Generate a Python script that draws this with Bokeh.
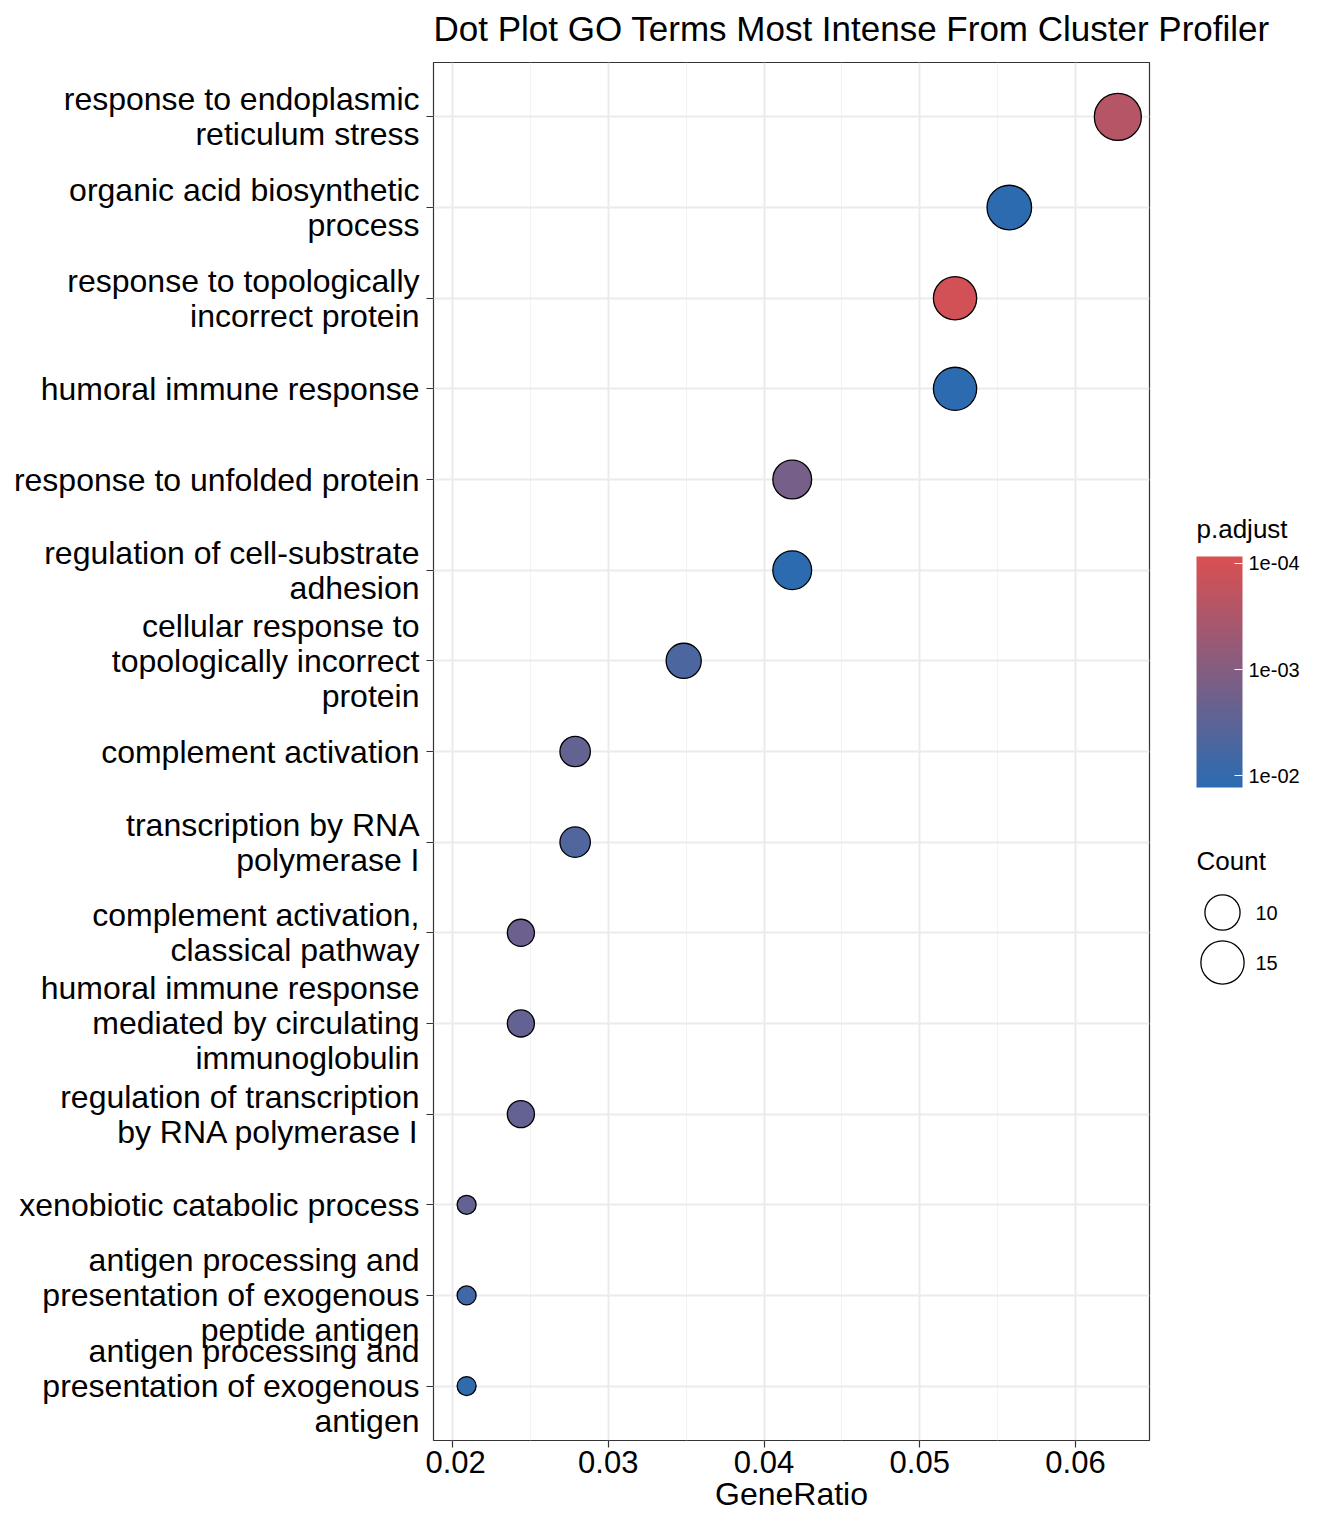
import numpy as np
from bokeh.plotting import figure
from bokeh.layouts import row, column
from bokeh.models import LinearColorMapper, ColorBar, FixedTicker, ColumnDataSource, Range1d
from bokeh.core.properties import value
from bokeh.embed import file_html
from bokeh.resources import INLINE

terms = [
    "response to endoplasmic\nreticulum stress",
    "organic acid biosynthetic\nprocess",
    "response to topologically\nincorrect protein",
    "humoral immune response",
    "response to unfolded protein",
    "regulation of cell-substrate\nadhesion",
    "cellular response to\ntopologically incorrect\nprotein",
    "complement activation",
    "transcription by RNA\npolymerase I",
    "complement activation,\nclassical pathway",
    "humoral immune response\nmediated by circulating\nimmunoglobulin",
    "regulation of transcription\nby RNA polymerase I",
    "xenobiotic catabolic process",
    "antigen processing and\npresentation of exogenous\npeptide antigen",
    "antigen processing and\npresentation of exogenous\nantigen",
]
gene_ratio = [18/287, 16/287, 15/287, 15/287, 12/287, 12/287, 10/287, 8/287, 8/287,
              7/287, 7/287, 7/287, 6/287, 6/287, 6/287]
count = [18, 16, 15, 15, 12, 12, 10, 8, 8, 7, 7, 7, 6, 6, 6]
p_adjust = [2.5e-4, 1.2e-2, 1.1e-4, 1.2e-2, 1.5e-3, 1.2e-2, 5e-3, 2.5e-3, 4.5e-3,
            2e-3, 2.5e-3, 2.5e-3, 2.5e-3, 7e-3, 1.1e-2]
legend_counts = [10, 15]
x_ticks = [0.02, 0.03, 0.04, 0.05, 0.06]
p_ticks = [1e-4, 1e-3, 1e-2]

FONT = "Liberation Sans"
TOP = 62
FRAME_H = 1378
BOTTOM = 88
LINE_H = 35


def diam(c):
    c = np.asarray(c, dtype=float)
    return 19 + 28 * np.sqrt((c - 6) / 12)


n = len(terms)
ypos = list(range(n, 0, -1))

red = np.array([0xDB, 0x50, 0x52])
blue = np.array([0x2B, 0x6C, 0xB2])
palette = []
for t in np.linspace(0, 1, 256):
    c = (blue * (1 - t) + red * t).astype(int)
    palette.append("#%02x%02x%02x" % tuple(c))
# reversed log10 scale: small p (red) at the top of the bar
mapper = LinearColorMapper(palette=palette, low=1.887, high=4.066)

src = ColumnDataSource(dict(x=gene_ratio, y=ypos, nlp=list(-np.log10(p_adjust)),
                            size=list(diam(count))))

# title strip
tf = figure(frame_width=1336, frame_height=TOP, output_backend="svg", toolbar_location=None,
            x_range=Range1d(0, 1336), y_range=Range1d(TOP, 0), min_border=0, outline_line_color=None)
tf.axis.visible = False
tf.grid.visible = False
tf.text(x=[433], y=[28], text=["Dot Plot GO Terms Most Intense From Cluster Profiler"],
        text_font=value(FONT), text_font_size="35px", text_baseline="middle", text_color="black")

# main dot plot
yr = Range1d(0.4, n + 0.6)
p = figure(frame_width=716, frame_height=FRAME_H, output_backend="svg", toolbar_location=None,
           x_range=Range1d(0.01878, 0.06475), y_range=yr,
           min_border_left=8, min_border_right=9, min_border_top=0, min_border_bottom=BOTTOM)
p.outline_line_color = "#333333"
p.outline_line_width = 1.2

p.scatter("x", "y", source=src, size="size", fill_color={"field": "nlp", "transform": mapper},
          line_color="black", line_width=1.3)

p.xaxis.ticker = FixedTicker(ticks=x_ticks, minor_ticks=[0.025, 0.035, 0.045, 0.055])
p.xaxis.major_label_overrides = {t: "%.2f" % t for t in x_ticks}
p.xaxis.axis_label = "GeneRatio"
p.yaxis.ticker = FixedTicker(ticks=ypos)
p.yaxis.major_label_overrides = {y: "" for y in ypos}
p.yaxis.major_label_standoff = 0
for ax in (p.xaxis, p.yaxis):
    ax.axis_line_color = None
    ax.major_tick_line_color = "#333333"
    ax.major_tick_line_width = 1.2
    ax.major_tick_out = 7
    ax.major_tick_in = 0
    ax.minor_tick_line_color = None
    ax.major_label_text_font = FONT
    ax.major_label_text_color = "black"
    ax.axis_label_text_font = FONT
    ax.axis_label_text_color = "black"
    ax.axis_label_text_font_style = "normal"
    ax.axis_label_text_font_size = "32px"
p.xaxis.major_label_text_font_size = "31px"
p.xaxis.major_label_standoff = 3
p.xaxis.axis_label_standoff = 0
p.xgrid.grid_line_color = "#EBEBEB"
p.xgrid.grid_line_width = 2
p.xgrid.minor_grid_line_color = "#F2F2F2"
p.xgrid.minor_grid_line_width = 1
p.ygrid.grid_line_color = "#EBEBEB"
p.ygrid.grid_line_width = 2

# term labels, one text per line so the line spacing matches
lab = figure(frame_width=425, frame_height=FRAME_H, output_backend="svg", toolbar_location=None,
             x_range=Range1d(0, 425), y_range=yr, min_border=0, min_border_bottom=BOTTOM,
             outline_line_color=None)
lab.axis.visible = False
lab.grid.visible = False
lx, ly, lt, lo = [], [], [], []
for y, term in zip(ypos, terms):
    lines = term.split("\n")
    for i, ln in enumerate(lines):
        lx.append(419)
        ly.append(y)
        lt.append(ln)
        lo.append((i - (len(lines) - 1) / 2) * LINE_H)
lab.text(x="x", y="y", text="t", y_offset="o", source=ColumnDataSource(dict(x=lx, y=ly, t=lt, o=lo)),
         text_font=value(FONT), text_font_size="32px", text_align="right",
         text_baseline="middle", text_color="black")

# legend panel, in pixel units from the frame top
lg = figure(frame_width=178, frame_height=FRAME_H + BOTTOM, output_backend="svg",
            toolbar_location=None, x_range=Range1d(0, 178), y_range=Range1d(FRAME_H + BOTTOM, 0),
            min_border=0, outline_line_color=None)
lg.axis.visible = False
lg.grid.visible = False

cb = ColorBar(color_mapper=mapper, ticker=FixedTicker(ticks=[2, 3, 4]),
              major_label_overrides={4: "1e-04", 3: "1e-03", 2: "1e-02"},
              major_label_text_font=FONT, major_label_text_font_size="20px",
              major_label_text_color="black",
              width=46, height=231, location=(38, 741), padding=0, border_line_color=None,
              background_fill_color=None, major_tick_line_color="white",
              major_tick_in=8, major_tick_out=0, bar_line_color=None, label_standoff=6)
lg.add_layout(cb, "center")
lg.text(x=[38], y=[466], text=["p.adjust"], text_font=value(FONT), text_font_size="26px",
        text_baseline="middle", text_color="black")

key_y = [850 + 50 * i for i in range(len(legend_counts))]
lg.scatter(x=[64] * len(legend_counts), y=key_y, size=list(diam(legend_counts)),
           fill_color="white", line_color="black", line_width=1.3)
lg.text(x=[97] * len(legend_counts), y=key_y, text=[str(c) for c in legend_counts],
        text_font=value(FONT), text_font_size="20px", text_baseline="middle", text_color="black")
lg.text(x=[38], y=[798], text=["Count"], text_font=value(FONT), text_font_size="26px",
        text_baseline="middle", text_color="black")

layout = column(tf, row(lab, p, lg, spacing=0), spacing=0)
open("out.html", "w").write(file_html(layout, INLINE))
